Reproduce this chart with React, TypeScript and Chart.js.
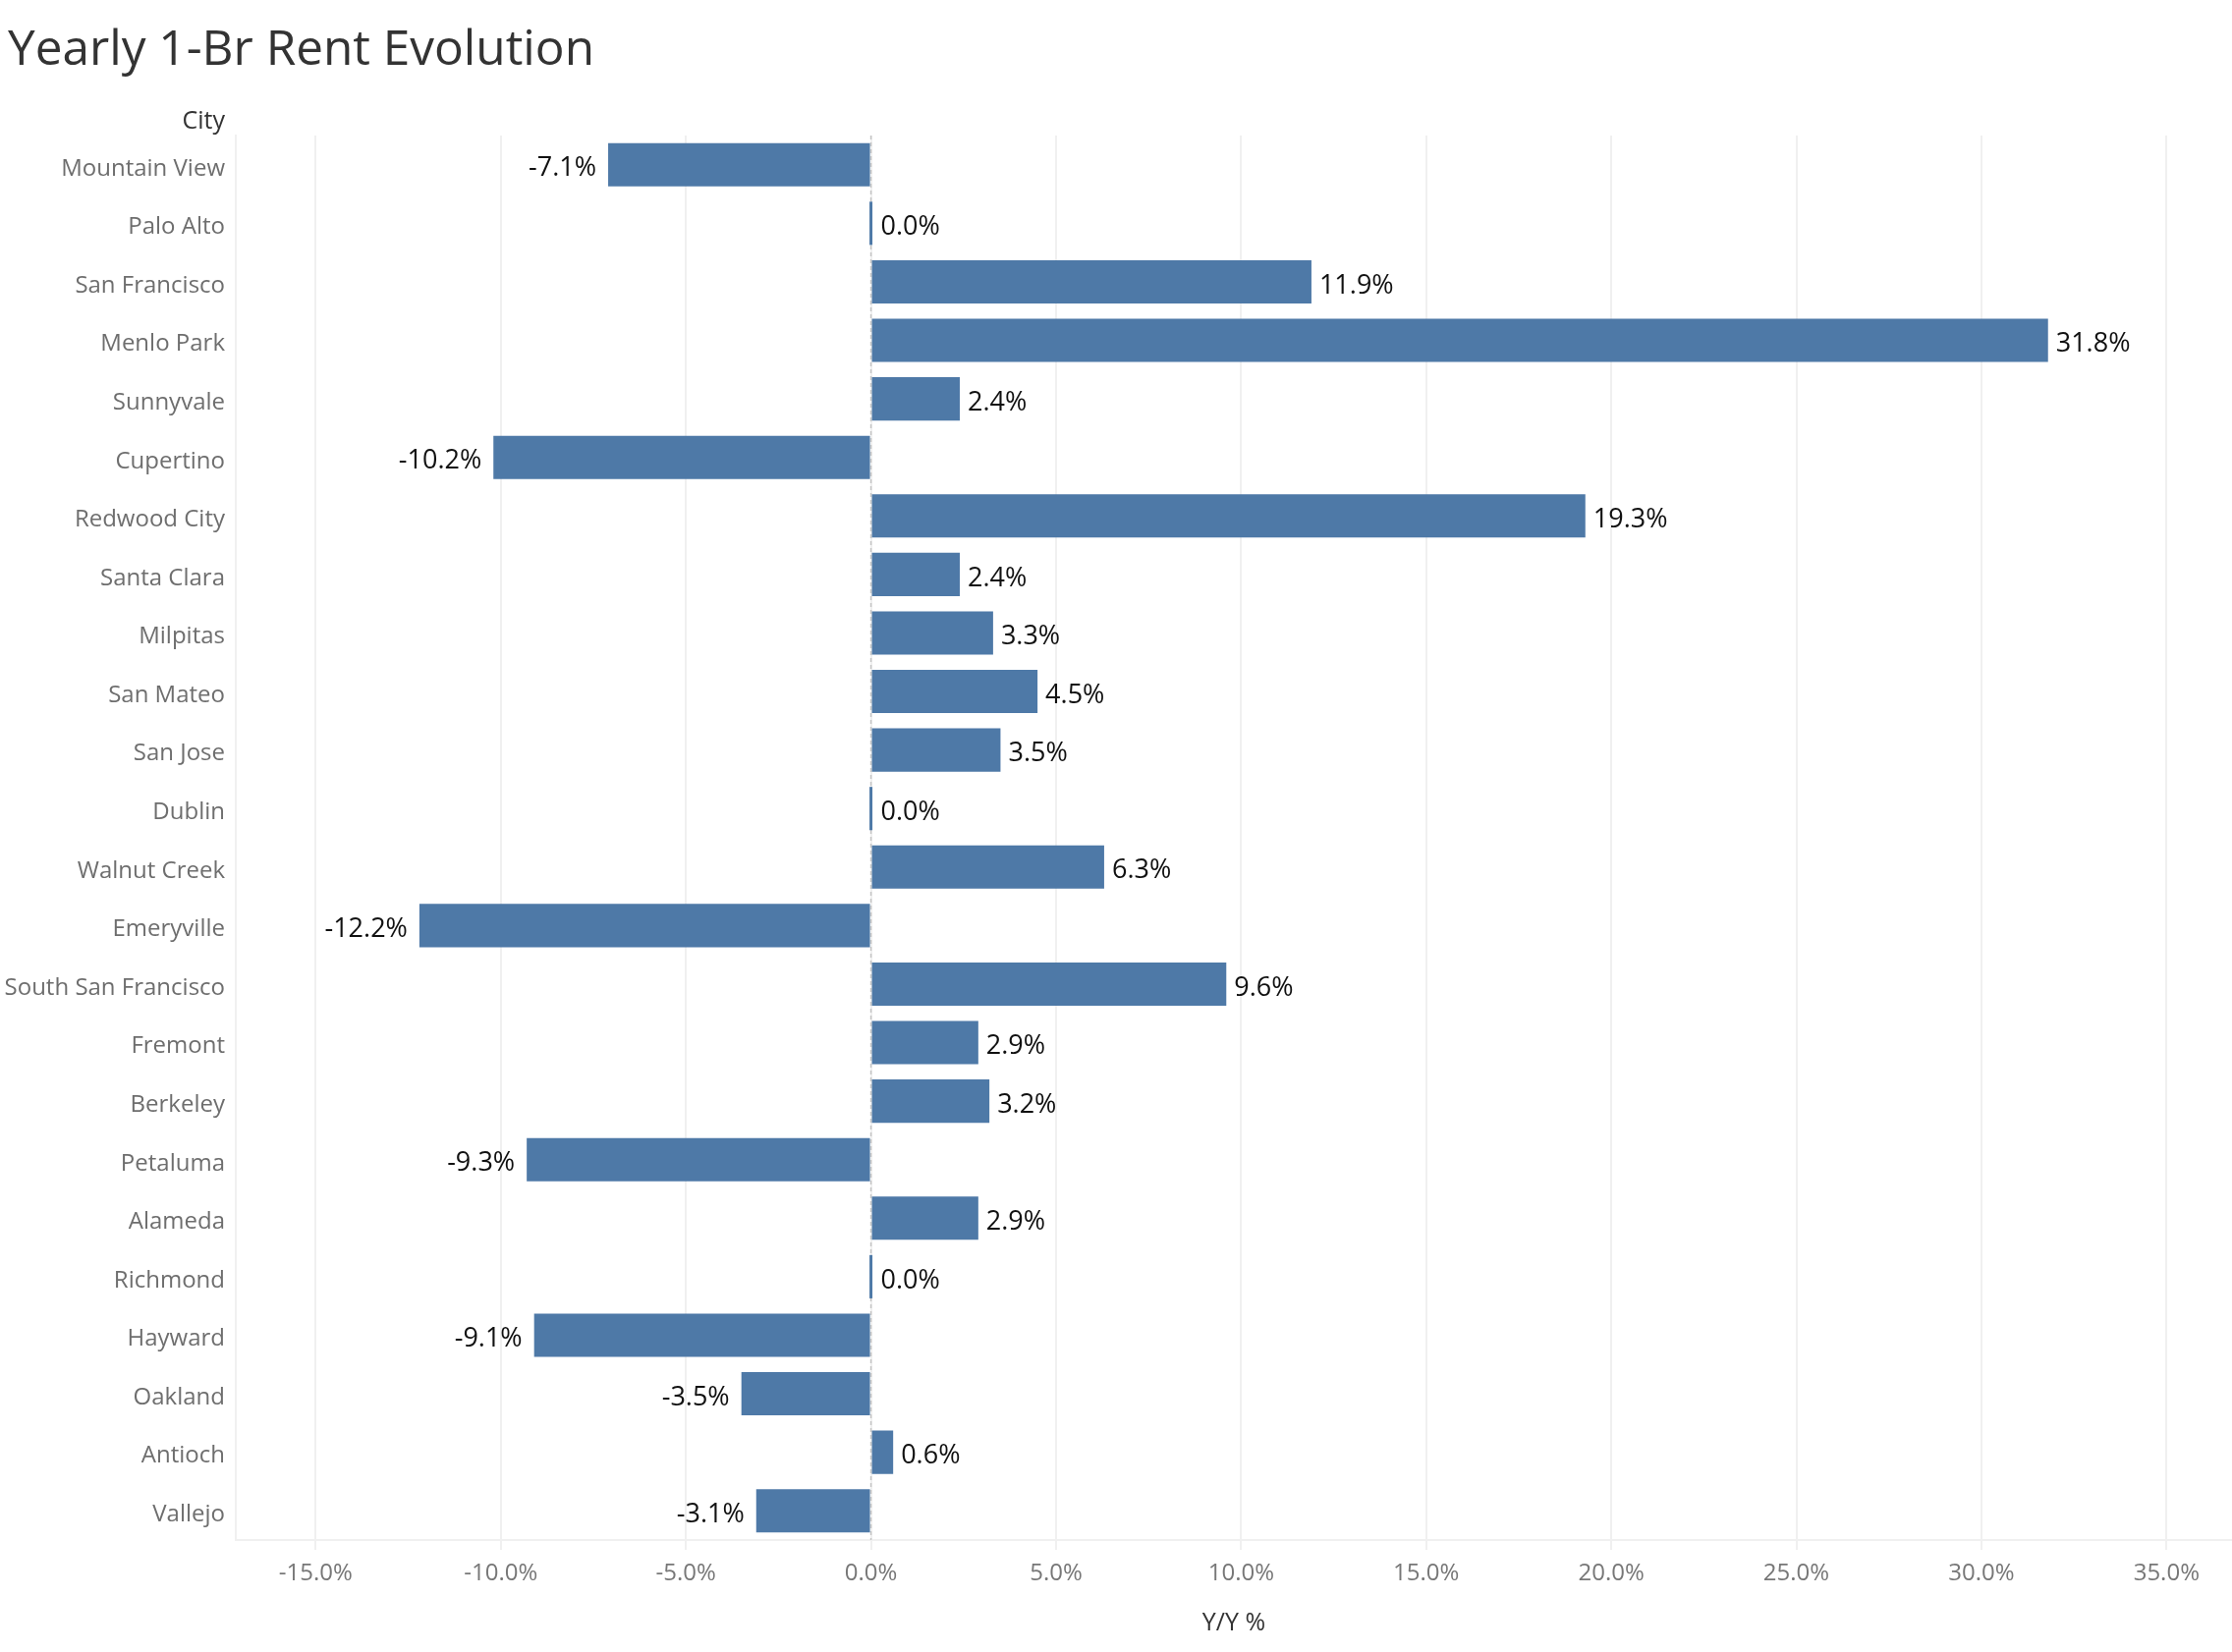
import React, { useEffect, useRef } from "react";
import { Chart, registerables } from "chart.js";

Chart.register(...registerables);

const cities = [
  "Mountain View", "Palo Alto", "San Francisco", "Menlo Park", "Sunnyvale", "Cupertino",
  "Redwood City", "Santa Clara", "Milpitas", "San Mateo", "San Jose", "Dublin",
  "Walnut Creek", "Emeryville", "South San Francisco", "Fremont", "Berkeley", "Petaluma",
  "Alameda", "Richmond", "Hayward", "Oakland", "Antioch", "Vallejo",
];
const yoyValues = [
  -7.1, 0.0, 11.9, 31.8, 2.4, -10.2,
  19.3, 2.4, 3.3, 4.5, 3.5, 0.0,
  6.3, -12.2, 9.6, 2.9, 3.2, -9.3,
  2.9, 0.0, -9.1, -3.5, 0.6, -3.1,
];
const xTickValues = [-15, -10, -5, 0, 5, 10, 15, 20, 25, 30, 35];
const xMin = -17.16;
const xMax = 36.77;

const chartTitle = "Yearly 1-Br Rent Evolution";
const rowHeader = "City";
const xAxisTitle = "Y/Y %";

const FONT = "'Open Sans', 'Noto Sans', sans-serif";

const fmt = (v: number) => v.toFixed(1) + "%";

const decorPlugin = {
  id: "decor",
  beforeDatasetsDraw(chart: any) {
    const { ctx, chartArea, scales } = chart;
    const x0 = scales.x.getPixelForValue(0);
    ctx.save();
    ctx.strokeStyle = "#c4c4c4";
    ctx.lineWidth = 1.5;
    ctx.setLineDash([4, 3]);
    ctx.beginPath();
    ctx.moveTo(x0, chartArea.top);
    ctx.lineTo(x0, chartArea.bottom);
    ctx.stroke();
    ctx.restore();
  },
  afterDatasetsDraw(chart: any) {
    const { ctx, scales } = chart;
    const meta = chart.getDatasetMeta(0);
    const x0 = scales.x.getPixelForValue(0);
    ctx.save();
    ctx.font = `27px ${FONT}`;
    ctx.fillStyle = "#111";
    ctx.textBaseline = "middle";
    meta.data.forEach((bar: any, i: number) => {
      const v = yoyValues[i];
      const end = scales.x.getPixelForValue(v);
      const y = bar.y + 4;
      if (v < 0) {
        ctx.textAlign = "right";
        ctx.fillText(fmt(v), end - 12, y);
      } else {
        ctx.textAlign = "left";
        ctx.fillText(fmt(v), Math.max(end, x0 + 2) + 8, y);
      }
    });
    ctx.restore();
  },
  afterDraw(chart: any) {
    const { ctx } = chart;
    ctx.save();
    ctx.fillStyle = "#333";
    ctx.textBaseline = "alphabetic";
    ctx.textAlign = "left";
    ctx.font = `49.5px ${FONT}`;
    ctx.fillText(chartTitle, 8, 66);
    ctx.font = `25px ${FONT}`;
    ctx.textAlign = "right";
    ctx.textBaseline = "middle";
    ctx.fillText(rowHeader, 229, 124);
    ctx.restore();
  },
};

export default function App() {
  const ref = useRef<HTMLCanvasElement | null>(null);

  useEffect(() => {
    document.body.style.margin = "0";
    const canvas = ref.current;
    if (!canvas) return;
    const chart = new Chart(canvas, {
      type: "bar",
      data: {
        labels: cities,
        datasets: [
          {
            data: yoyValues,
            backgroundColor: "#4e79a7",
            borderWidth: 0,
            barPercentage: 0.74,
            categoryPercentage: 1,
            minBarLength: 3,
          },
        ],
      },
      plugins: [decorPlugin],
      options: {
        indexAxis: "y",
        responsive: false,
        animation: false,
        devicePixelRatio: 1,
        layout: { padding: { top: 138, left: 0, right: 0, bottom: 0 } },
        plugins: {
          legend: { display: false },
          tooltip: { enabled: false },
          title: { display: false },
        },
        scales: {
          x: {
            type: "linear",
            position: "bottom",
            min: xMin,
            max: xMax,
            afterBuildTicks: (axis: any) => {
              axis.ticks = xTickValues.map((v) => ({ value: v }));
            },
            afterFit: (scale: any) => {
              scale.height = 114;
            },
            grid: {
              color: "#f0f0f0",
              lineWidth: 2,
              tickColor: "#f0f0f0",
              tickLength: 10,
              drawTicks: true,
            },
            border: { display: true, color: "#f0f0f0", width: 2 },
            ticks: {
              color: "#777",
              font: { family: FONT, size: 24 },
              padding: 10,
              callback: (v: any) => fmt(Number(v)),
              maxRotation: 0,
              autoSkip: false,
            },
            title: {
              display: true,
              text: xAxisTitle,
              color: "#333",
              font: { family: FONT, size: 25 },
              padding: { top: 0, bottom: 14 },
            },
          },
          y: {
            type: "category",
            afterFit: (scale: any) => {
              scale.width = 240;
            },
            grid: { display: false, drawTicks: false },
            border: { display: true, color: "#f0f0f0", width: 2 },
            ticks: {
              color: "#6e6e6e",
              font: { family: FONT, size: 24 },
              padding: 11,
              labelOffset: 4,
              autoSkip: false,
            },
          },
        },
      },
    } as any);
    return () => chart.destroy();
  }, []);

  return (
    <canvas
      ref={ref}
      width={2272}
      height={1682}
      style={{ display: "block", width: 2272, height: 1682 }}
    />
  );
}
